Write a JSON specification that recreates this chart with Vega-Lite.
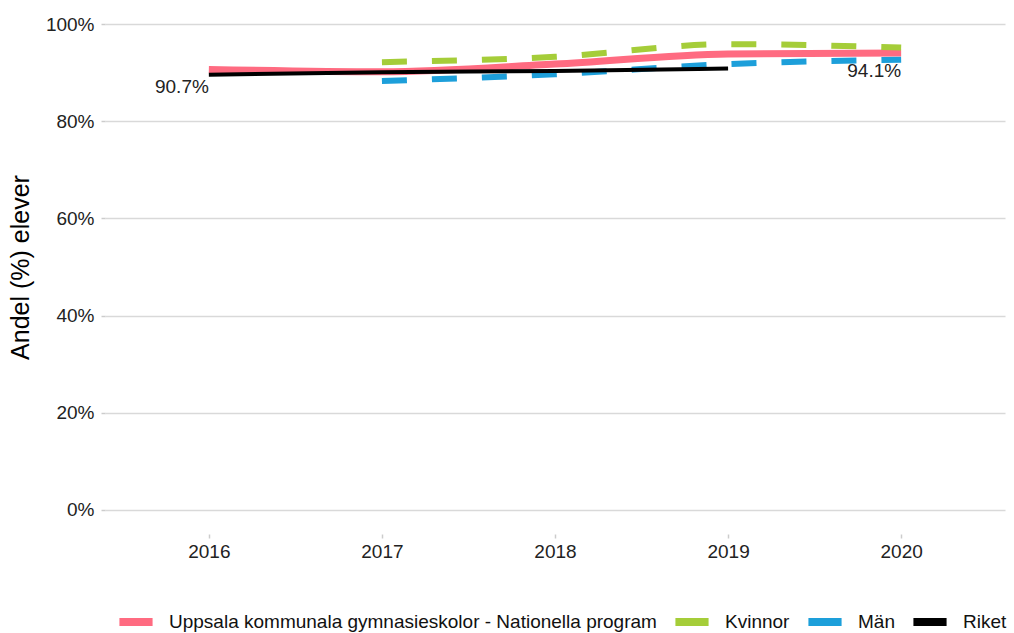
{
  "$schema": "https://vega.github.io/schema/vega-lite/v6.json",
  "width": 900,
  "height": 534,
  "autosize": {"type": "none"},
  "padding": {"left": 105, "top": 0, "right": 9, "bottom": 99},
  "config": {
    "font": "Liberation Sans",
    "view": {"stroke": null},
    "axis": {"labelFont": "Liberation Sans", "titleFont": "Liberation Sans", "labelColor": "#222222", "titleColor": "#000000"}
  },
  "datasets": {
    "main": [
      {"year": 2016, "series": "Uppsala kommunala gymnasieskolor - Nationella program", "value": 90.7},
      {"year": 2017, "series": "Uppsala kommunala gymnasieskolor - Nationella program", "value": 90.2},
      {"year": 2018, "series": "Uppsala kommunala gymnasieskolor - Nationella program", "value": 91.8},
      {"year": 2019, "series": "Uppsala kommunala gymnasieskolor - Nationella program", "value": 93.9},
      {"year": 2020, "series": "Uppsala kommunala gymnasieskolor - Nationella program", "value": 94.1},
      {"year": 2017, "series": "Kvinnor", "value": 92.2},
      {"year": 2018, "series": "Kvinnor", "value": 93.3},
      {"year": 2019, "series": "Kvinnor", "value": 95.9},
      {"year": 2020, "series": "Kvinnor", "value": 95.2},
      {"year": 2017, "series": "Män", "value": 88.3},
      {"year": 2018, "series": "Män", "value": 89.7},
      {"year": 2019, "series": "Män", "value": 91.8},
      {"year": 2020, "series": "Män", "value": 92.7},
      {"year": 2016, "series": "Riket", "value": 89.6},
      {"year": 2017, "series": "Riket", "value": 90.1},
      {"year": 2018, "series": "Riket", "value": 90.4},
      {"year": 2019, "series": "Riket", "value": 90.9}
    ],
    "labels": [
      {"year": 2016, "value": 90.7, "label": "90.7%"},
      {"year": 2020, "value": 94.1, "label": "94.1%"}
    ]
  },
  "encoding": {
    "x": {
      "field": "year", "type": "quantitative",
      "scale": {"domain": [2015.4, 2020.6], "nice": false, "zero": false},
      "axis": {"values": [2016, 2017, 2018, 2019, 2020], "format": "d", "title": null, "grid": false, "domain": false, "ticks": true, "tickColor": "#cccccc", "tickSize": 4, "tickWidth": 1.5, "labelFontSize": 19, "labelPadding": 4, "labelFlush": false}
    },
    "y": {
      "field": "value", "type": "quantitative",
      "scale": {"domain": [-5, 105], "nice": false, "zero": false},
      "axis": {"values": [0, 20, 40, 60, 80, 100], "labelExpr": "datum.value + '%'", "title": "Andel (%) elever", "titleFontSize": 25, "titleFontWeight": "normal", "titlePadding": 12, "labelFontSize": 19, "grid": true, "gridColor": "#d9d9d9", "gridWidth": 1.5, "domain": false, "ticks": true, "tickColor": "#cccccc", "tickSize": 4, "tickWidth": 1.5, "labelPadding": 7}
    }
  },
  "layer": [
    {
      "data": {"name": "main"},
      "transform": [{"filter": "datum.series == 'Uppsala kommunala gymnasieskolor - Nationella program'"}],
      "mark": {"type": "line", "strokeWidth": 7, "interpolate": "monotone"},
      "encoding": {
        "color": {
          "field": "series", "type": "nominal",
          "scale": {"domain": ["Uppsala kommunala gymnasieskolor - Nationella program", "Kvinnor", "Män", "Riket"], "range": ["#ff6b81", "#a5cd39", "#1d9fda", "#000000"]},
          "legend": {"title": null, "orient": "none", "legendX": 10, "legendY": 601, "direction": "horizontal", "labelFontSize": 19, "labelLimit": 0, "labelColor": "#111111", "symbolType": "stroke", "symbolSize": 1100, "symbolStrokeWidth": 8, "columnPadding": 2, "labelOffset": 12}
        }
      }
    },
    {
      "data": {"name": "main"},
      "transform": [{"filter": "datum.series == 'Kvinnor'"}],
      "mark": {"type": "line", "strokeWidth": 6, "strokeDash": [25, 25], "interpolate": "monotone"},
      "encoding": {"color": {"field": "series", "type": "nominal"}}
    },
    {
      "data": {"name": "main"},
      "transform": [{"filter": "datum.series == 'Män'"}],
      "mark": {"type": "line", "strokeWidth": 6, "strokeDash": [25, 25], "interpolate": "monotone"},
      "encoding": {"color": {"field": "series", "type": "nominal"}}
    },
    {
      "data": {"name": "main"},
      "transform": [{"filter": "datum.series == 'Riket'"}],
      "mark": {"type": "line", "strokeWidth": 4, "interpolate": "monotone"},
      "encoding": {"color": {"field": "series", "type": "nominal"}}
    },
    {
      "data": {"name": "labels"},
      "mark": {"type": "text", "align": "right", "baseline": "top", "fontSize": 19, "color": "#222222", "dy": 9},
      "encoding": {"text": {"field": "label"}}
    }
  ]
}
